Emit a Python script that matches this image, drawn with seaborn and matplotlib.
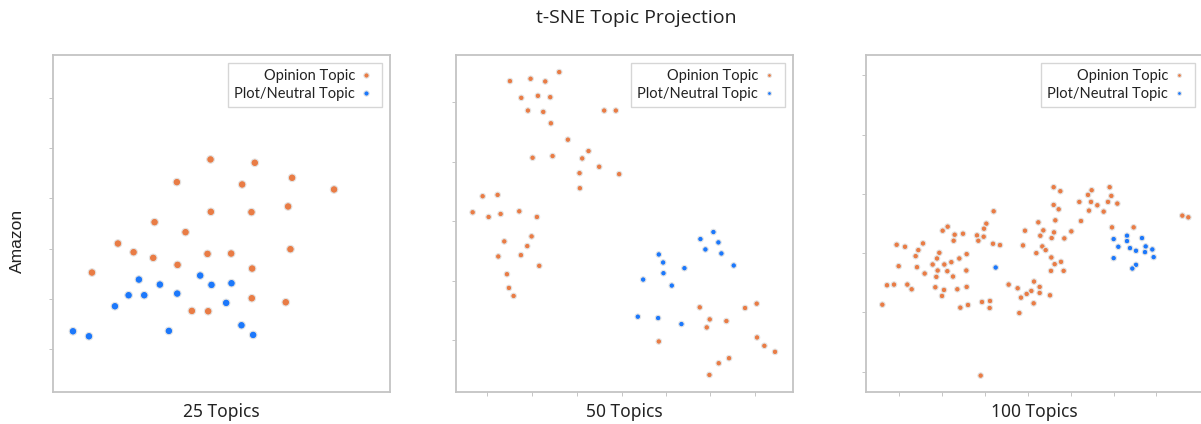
import matplotlib
matplotlib.use("Agg")
import matplotlib.pyplot as plt
import seaborn as sns
import numpy as np
import pandas as pd

# t-SNE coordinates (arbitrary units)
p25_op_x = [51.1, 64.4, 75.6, 41.0, 60.6, 88.2, 51.2, 63.4, 74.4, 34.3, 43.6, 23.3,
            28.0, 33.9, 50.2, 57.3, 75.1, 41.2, 63.6, 15.5, 63.5, 73.7, 45.5, 50.4]
p25_op_y = [71.7, 70.7, 66.2, 64.9, 64.2, 62.7, 56.0, 55.9, 57.6, 52.9, 49.9, 46.5,
            43.9, 42.2, 43.4, 43.5, 44.8, 40.1, 39.0, 37.8, 30.1, 28.9, 26.3, 26.2]
p25_pl_x = [29.6, 35.9, 48.0, 51.4, 57.4, 26.5, 31.2, 41.1, 22.4, 55.8, 9.8, 14.6,
            38.6, 60.4, 63.9]
p25_pl_y = [35.7, 34.2, 36.9, 34.1, 34.6, 31.0, 31.0, 31.5, 27.7, 28.7, 20.2, 18.7,
            20.3, 22.0, 19.1]

p50_op_x = [34.3, 19.5, 25.7, 30.1, 22.9, 27.9, 31.6, 24.9, 29.5, 47.8, 51.3, 31.8,
            36.9, 43.1, 26.3, 32.3, 41.2, 46.3, 40.4, 52.3, 40.5,
            11.3, 15.8, 8.3, 13.1, 16.7, 22.3, 27.6, 17.8, 26.0, 24.7, 16.0, 22.8,
            28.3, 18.6, 19.2, 20.6,
            76.5, 90.1, 93.6, 79.5, 84.5, 78.6, 64.2, 93.7, 95.9, 99.1, 85.3, 82.2, 79.4]
p50_op_y = [98.1, 95.4, 96.1, 95.3, 90.4, 91.0, 90.6, 86.6, 86.2, 86.6, 86.6, 82.8,
            77.9, 74.5, 72.5, 73.0, 72.3, 69.8, 67.9, 67.6, 63.4,
            61.0, 61.4, 56.2, 54.8, 55.7, 56.5, 54.8, 47.5, 49.0, 46.1, 43.0, 43.4,
            40.2, 37.7, 33.6, 31.2,
            27.8, 27.6, 28.9, 24.2, 23.7, 21.8, 17.6, 18.8, 16.3, 14.5, 12.6, 11.1, 7.6]
p50_pl_x = [80.6, 76.7, 82.1, 78.2, 83.0, 64.2, 65.5, 71.9, 86.7, 65.6, 59.5, 68.1,
            57.9, 64.0, 71.0]
p50_pl_y = [50.3, 48.2, 47.2, 45.1, 43.9, 43.6, 41.2, 39.5, 40.3, 38.0, 36.1, 34.3,
            25.0, 24.6, 22.8]

p100_op_x = [59.6, 61.6, 76.4, 71.0, 69.9, 76.9, 67.3, 70.8, 72.7, 75.9, 78.7, 59.6,
             61.1, 70.2, 74.6, 41.6, 98.2, 100.0,
             67.8, 60.1, 55.0, 39.4, 27.8, 26.3, 38.7, 51.0, 56.5, 59.7, 64.9, 77.1, 83.6,
             29.9, 32.4, 36.6, 38.6, 55.6, 59.0, 62.8, 29.6, 37.0,
             12.5, 15.0, 20.4, 19.0, 41.4, 43.5, 50.4, 56.2, 57.2, 25.3, 18.2, 33.5,
             54.4, 31.3, 24.6, 58.9,
             13.1, 18.6, 23.3, 26.8, 28.9, 61.8, 59.9, 24.8, 27.7, 33.4, 58.8, 62.6,
             20.9, 24.4, 29.4,
             9.6, 11.7, 15.7, 17.0, 24.1, 26.7, 30.7, 33.5, 46.1, 48.8, 53.7, 55.4,
             52.9, 51.5, 55.4, 58.5, 49.8, 26.1,
             8.2, 31.6, 33.9, 38.1, 40.5, 40.4, 53.6, 49.3, 37.7]
p100_op_y = [63.7, 62.5, 63.7, 62.8, 61.4, 61.1, 59.3, 59.3, 58.3, 59.3, 58.8, 58.4,
             57.1, 56.7, 56.4, 56.5, 55.2, 54.7,
             53.6, 53.8, 53.2, 52.8, 51.9, 50.7, 51.3, 50.7, 50.8, 50.2, 50.5, 51.7, 51.7,
             49.5, 49.8, 49.3, 48.9, 49.2, 48.5, 48.4, 47.7, 47.7,
             46.5, 45.9, 46.9, 44.9, 46.8, 46.4, 46.3, 46.0, 44.9, 44.1, 43.1, 43.7,
             44.0, 42.4, 42.4, 42.7,
             40.1, 39.8, 40.6, 40.6, 41.3, 41.4, 40.7, 38.8, 38.6, 38.8, 38.7, 38.7,
             37.9, 36.9, 37.0,
             34.4, 34.6, 34.6, 33.2, 33.8, 33.0, 33.2, 33.9, 34.6, 33.5, 35.5, 33.9,
             32.7, 31.8, 32.1, 31.4, 30.7, 31.2,
             28.6, 27.7, 28.5, 29.4, 29.7, 27.6, 29.0, 26.1, 7.4]
p100_pl_x = [77.6, 81.6, 81.6, 86.1, 79.0, 82.5, 84.3, 87.2, 89.2, 87.0, 77.6, 89.6,
             84.3, 83.2, 42.2]
p100_pl_y = [48.2, 49.2, 47.6, 48.5, 45.9, 45.5, 44.7, 46.0, 45.1, 44.3, 42.5, 42.8,
             40.5, 39.4, 39.7]

titles = ["25 Topics", "50 Topics", "100 Topics"]
labels = ["Opinion Topic", "Plot/Neutral Topic"]

sns.set_theme(style="white")
plt.rcParams["font.family"] = ["Noto Sans", "DejaVu Sans"]

orange = "#e97c45"
blue = "#1c78fb"

panels = [
    (p25_op_x, p25_op_y, p25_pl_x, p25_pl_y),
    (p50_op_x, p50_op_y, p50_pl_x, p50_pl_y),
    (p100_op_x, p100_op_y, p100_pl_x, p100_pl_y),
]
sizes = [30, 16, 16]
xlims = [(3.8, 105.0), (3.3, 104.5), (3.3, 104.4)]
ylims = [(2.0, 103.0), (2.5, 103.2), (2.5, 103.2)]
xticks = [[], [12.5, 26.0, 39.5, 53.0, 66.5, 79.7, 93.2],
          [13.3, 26.2, 39.0, 51.8, 64.7, 77.6, 90.4]]
yticks = [[90, 75, 60, 45, 30, 15], [89.2, 71.3, 53.5, 35.7, 18.0],
          [97.2, 79.4, 61.7, 44.0, 26.3, 8.5]]
lefts = [53, 456, 866]

fig = plt.figure(figsize=(12.01, 4.24), dpi=100)

for i, (ox, oy, px, py) in enumerate(panels):
    ax = fig.add_axes([lefts[i] / 1201, 1 - 392 / 424, 337 / 1201, 337 / 424])
    df = pd.DataFrame({
        "x": list(ox) + list(px),
        "y": list(oy) + list(py),
        "kind": [labels[0]] * len(ox) + [labels[1]] * len(px),
    })
    sns.scatterplot(data=df, x="x", y="y", hue="kind", hue_order=labels,
                    palette=[orange, blue], s=sizes[i], edgecolor="#e4e4e4",
                    linewidth=0.8, ax=ax)
    ax.set_xlim(*xlims[i])
    ax.set_ylim(*ylims[i])
    ax.set_xticks(xticks[i])
    ax.set_yticks(yticks[i])
    ax.set_xticklabels([])
    ax.set_yticklabels([])
    ax.tick_params(axis="both", length=3, width=0.6, color="#bbbbbb", direction="out",
                   bottom=True, left=True)
    for sp in ax.spines.values():
        sp.set_color("#c4c4c4")
        sp.set_linewidth(1.3)
    ax.set_ylabel("")
    ax.set_xlabel("")
    fig.text((lefts[i] + 168.5) / 1201, 1 - 412 / 424, titles[i], ha="center",
             va="center", fontsize=12.5, color="#222222")
    leg = ax.legend(loc="upper right", markerfirst=False,
                    prop={"family": ["Lato", "DejaVu Sans"], "size": 10.5},
                    frameon=True, fancybox=False, borderpad=0.4,
                    handletextpad=0.05, labelspacing=0.3, borderaxespad=0.55,
                    markerscale=0.7, handlelength=1.4)
    leg.get_frame().set_edgecolor("#cccccc")
    leg.get_frame().set_linewidth(1.0)
    for t in leg.get_texts():
        t.set_ha("right")
        t.set_color("#222222")

fig.text(636 / 1201, 1 - 18 / 424, "t-SNE Topic Projection", ha="center", va="center",
         fontsize=14, color="#222222", family=["Open Sans", "DejaVu Sans"])
fig.text(17 / 1201, 1 - 241 / 424, "Amazon", ha="center", va="center", rotation=90,
         fontsize=12.5, color="#222222", family=["Liberation Sans", "DejaVu Sans"])

fig.savefig("out.png", dpi=100)
